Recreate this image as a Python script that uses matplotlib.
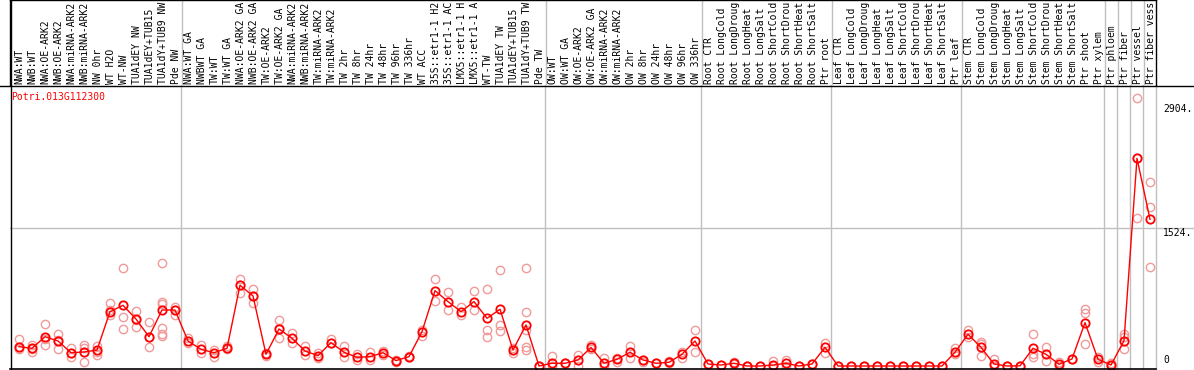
import numpy as np
import matplotlib
matplotlib.use("Agg")
import matplotlib.pyplot as plt
from matplotlib.lines import Line2D

gene = "Potri.013G112300"

# sample labels as shown (the chart cuts them at 14 characters)
samples = [
    "NWA:WT", "NWB:WT", "NWA:OE-ARK2", "NWB:OE-ARK2", "NWA:miRNA-ARK2", "NWB:miRNA-ARK2",
    "NW 0hr", "WT H2O", "WT-NW", "TUA1dEY NW", "TUA1dEY+TUB15", "TUA1dY+TUB9 NW", "Pde NW",
    "NWA:WT GA", "NWBWT GA", "TW:WT", "TW:WT GA", "NWA:OE-ARK2 GA", "NWB:OE-ARK2 GA",
    "TW:OE-ARK2", "TW:OE-ARK2 GA", "NWA:miRNA-ARK2", "NWB:miRNA-ARK2", "TW:miRNA-ARK2",
    "TW:miRNA-ARK2", "TW 2hr", "TW 8hr", "TW 24hr", "TW 48hr", "TW 96hr", "TW 336hr",
    "WT ACC", "35S::etr1-1 H2", "35S::etr1-1 AC", "LMX5::etr1-1 H", "LMX5::etr1-1 A",
    "WT-TW", "TUA1dEY TW", "TUA1dEY+TUB15", "TUA1dY+TUB9 TW", "Pde TW",
    "OW:WT", "OW:WT GA", "OW:OE-ARK2", "OW:OE-ARK2 GA", "OW:miRNA-ARK2", "OW:miRNA-ARK2",
    "OW 2hr", "OW 8hr", "OW 24hr", "OW 48hr", "OW 96hr", "OW 336hr",
    "Root CTR", "Root LongCold", "Root LongDroug", "Root LongHeat", "Root LongSalt",
    "Root ShortCold", "Root ShortDrou", "Root ShortHeat", "Root ShortSalt", "Ptr root",
    "Leaf CTR", "Leaf LongCold", "Leaf LongDroug", "Leaf LongHeat", "Leaf LongSalt",
    "Leaf ShortCold", "Leaf ShortDrou", "Leaf ShortHeat", "Leaf ShortSalt", "Ptr leaf",
    "Stem CTR", "Stem LongCold", "Stem LongDroug", "Stem LongHeat", "Stem LongSalt",
    "Stem ShortCold", "Stem ShortDrou", "Stem ShortHeat", "Stem ShortSalt", "Ptr shoot",
    "Ptr xylem", "Ptr phloem", "Ptr fiber", "Ptr vessel", "Ptr fiber vess",
]

means = [
    214, 196, 324, 277, 147, 155, 177, 601, 672, 520, 324, 620, 620,
    277, 185, 147, 196, 894, 775, 130, 410, 307, 166, 115, 259, 152, 96, 103, 147, 60, 103,
    380, 834, 713, 601, 713, 528, 628, 177, 454, 0,
    30, 30, 67, 205, 30, 74, 152, 67, 30, 41, 130, 277,
    22, 11, 30, 0, 0, 11, 30, 0, 22, 207,
    0, 0, 0, 0, 0, 0, 0, 0, 0, 152,
    351, 207, 22, 0, 2, 196, 130, 19, 78, 480,
    74, 11, 280, 2299, 1624,
]

reps = [
    [296, 184, 207], [232, 159, 185], [465, 232, 299], [354, 185, 287], [196, 103, 140],
    [232, 41, 196], [221, 122, 159], [694, 564, 620], [1082, 539, 406], [608, 428, 509],
    [484, 214, 324], [1144, 713, 686, 417, 354, 332], [656, 564, 620],
    [307, 252], [232, 140], [177, 103], [221, 185], [963, 812, 897], [849, 694, 775],
    [140, 114], [509, 313, 417], [368, 252], [221, 122], [147, 85], [296, 252], [221, 103],
    [133, 67], [155, 67], [170, 122], [67, 48], [115, 95], [399, 332], [960, 723],
    [823, 620], [656, 564], [834, 620], [849, 399, 324], [1062, 454, 388], [196, 147],
    [1082, 594, 207, 177, 399], [0, 0],
    [111, 0], [30, 30], [122, 0], [232, 185], [85, 0], [85, 48], [221, 85], [67, 48],
    [30, 30], [55, 30], [159, 85], [399, 152],
    [22, 22], [11, 11], [48, 20], [0, 0], [0, 0], [55, 0], [63, 0], [0, 0], [22, 22], [252, 147],
    [0, 0], [0, 0], [0, 0], [0, 0], [0, 0], [0, 0], [0, 0], [0, 0], [0, 0], [196, 133],
    [399, 317], [269, 114, 243], [78, 0], [0, 0], [2, 2], [354, 103, 133], [207, 55],
    [48, 0], [78, 78], [628, 590, 244],
    [96, 40], [30, 0], [351, 318, 185], [2963, 1635, 2299], [2034, 1757, 1099],
]

# group separators (after these sample indices)
group_ends = [12, 40, 52, 62, 72, 83, 84, 85, 86, 87]
ytick_vals = [2904, 1524]

W, H = 1194, 370
fig = plt.figure(figsize=(W / 100, H / 100), dpi=100)
mono = "DejaVu Sans Mono"
fs = 7.0

# pixel mapping: sample i at x = 19 + 13*i ; value v at y = 366 - v/11.07
def xl(px):
    return (px - 19) / 13.0

def yv(py):
    return (366 - py) * 11.07

ax = fig.add_axes([10 / W, 0, 1184 / W, (H - 85) / H])
ax.set_xlim(xl(10), xl(1194))
ax.set_ylim(yv(370), yv(85))
ax.axis("off")

axl = fig.add_axes([10 / W, (H - 85) / H, 1146 / W, 85 / H])
axl.set_xlim(xl(10), xl(1156))
axl.set_ylim(0, 1)
axl.set_xticks([])
axl.set_yticks([])
for s in ["left", "top", "right"]:
    axl.spines[s].set_color("black")
    axl.spines[s].set_linewidth(1)
axl.spines["bottom"].set_visible(False)

# borders
fig.add_artist(Line2D([0, 1], [(H - 85.5) / H] * 2, color="black", lw=1))
fig.add_artist(Line2D([10.5 / W] * 2, [0, 1], color="black", lw=1))
fig.add_artist(Line2D([10 / W, 1156 / W], [(H - 368.5) / H] * 2, color="black", lw=1.2))

x = np.arange(len(samples))
for g in group_ends:
    ax.axvline(g + 0.5, color="#c0c0c0", lw=1, zorder=1)
    axl.axvline(g + 0.5, color="#c0c0c0", lw=1, zorder=1)

ax.axhline(1524, color="#c0c0c0", lw=1, zorder=1)

for i, r in enumerate(reps):
    ax.plot([i] * len(r), r, "o", ms=6, mfc="none", mec="#f09a9a", mew=1, zorder=2)

ax.plot(x, means, "-", color="red", lw=1, zorder=3)
ax.plot(x, means, "o", ms=6, mfc="none", mec="red", mew=1.3, zorder=4)

for i, s in enumerate(samples):
    axl.text(i + 0.05, 1.5 / 85, s, rotation=90, ha="center", va="bottom",
             family=mono, fontsize=fs, color="black")

for v in ytick_vals:
    ax.text(xl(1163), v, f"{v}.", ha="left", va="top", family=mono, fontsize=fs)
ax.text(xl(1163), yv(365), "0", ha="left", va="bottom", family=mono, fontsize=fs)

fig.text(11 / W, 1 - 92 / H, gene, ha="left", va="top", family=mono,
         fontsize=fs, color="red")

plt.savefig("out.png", dpi=100)
